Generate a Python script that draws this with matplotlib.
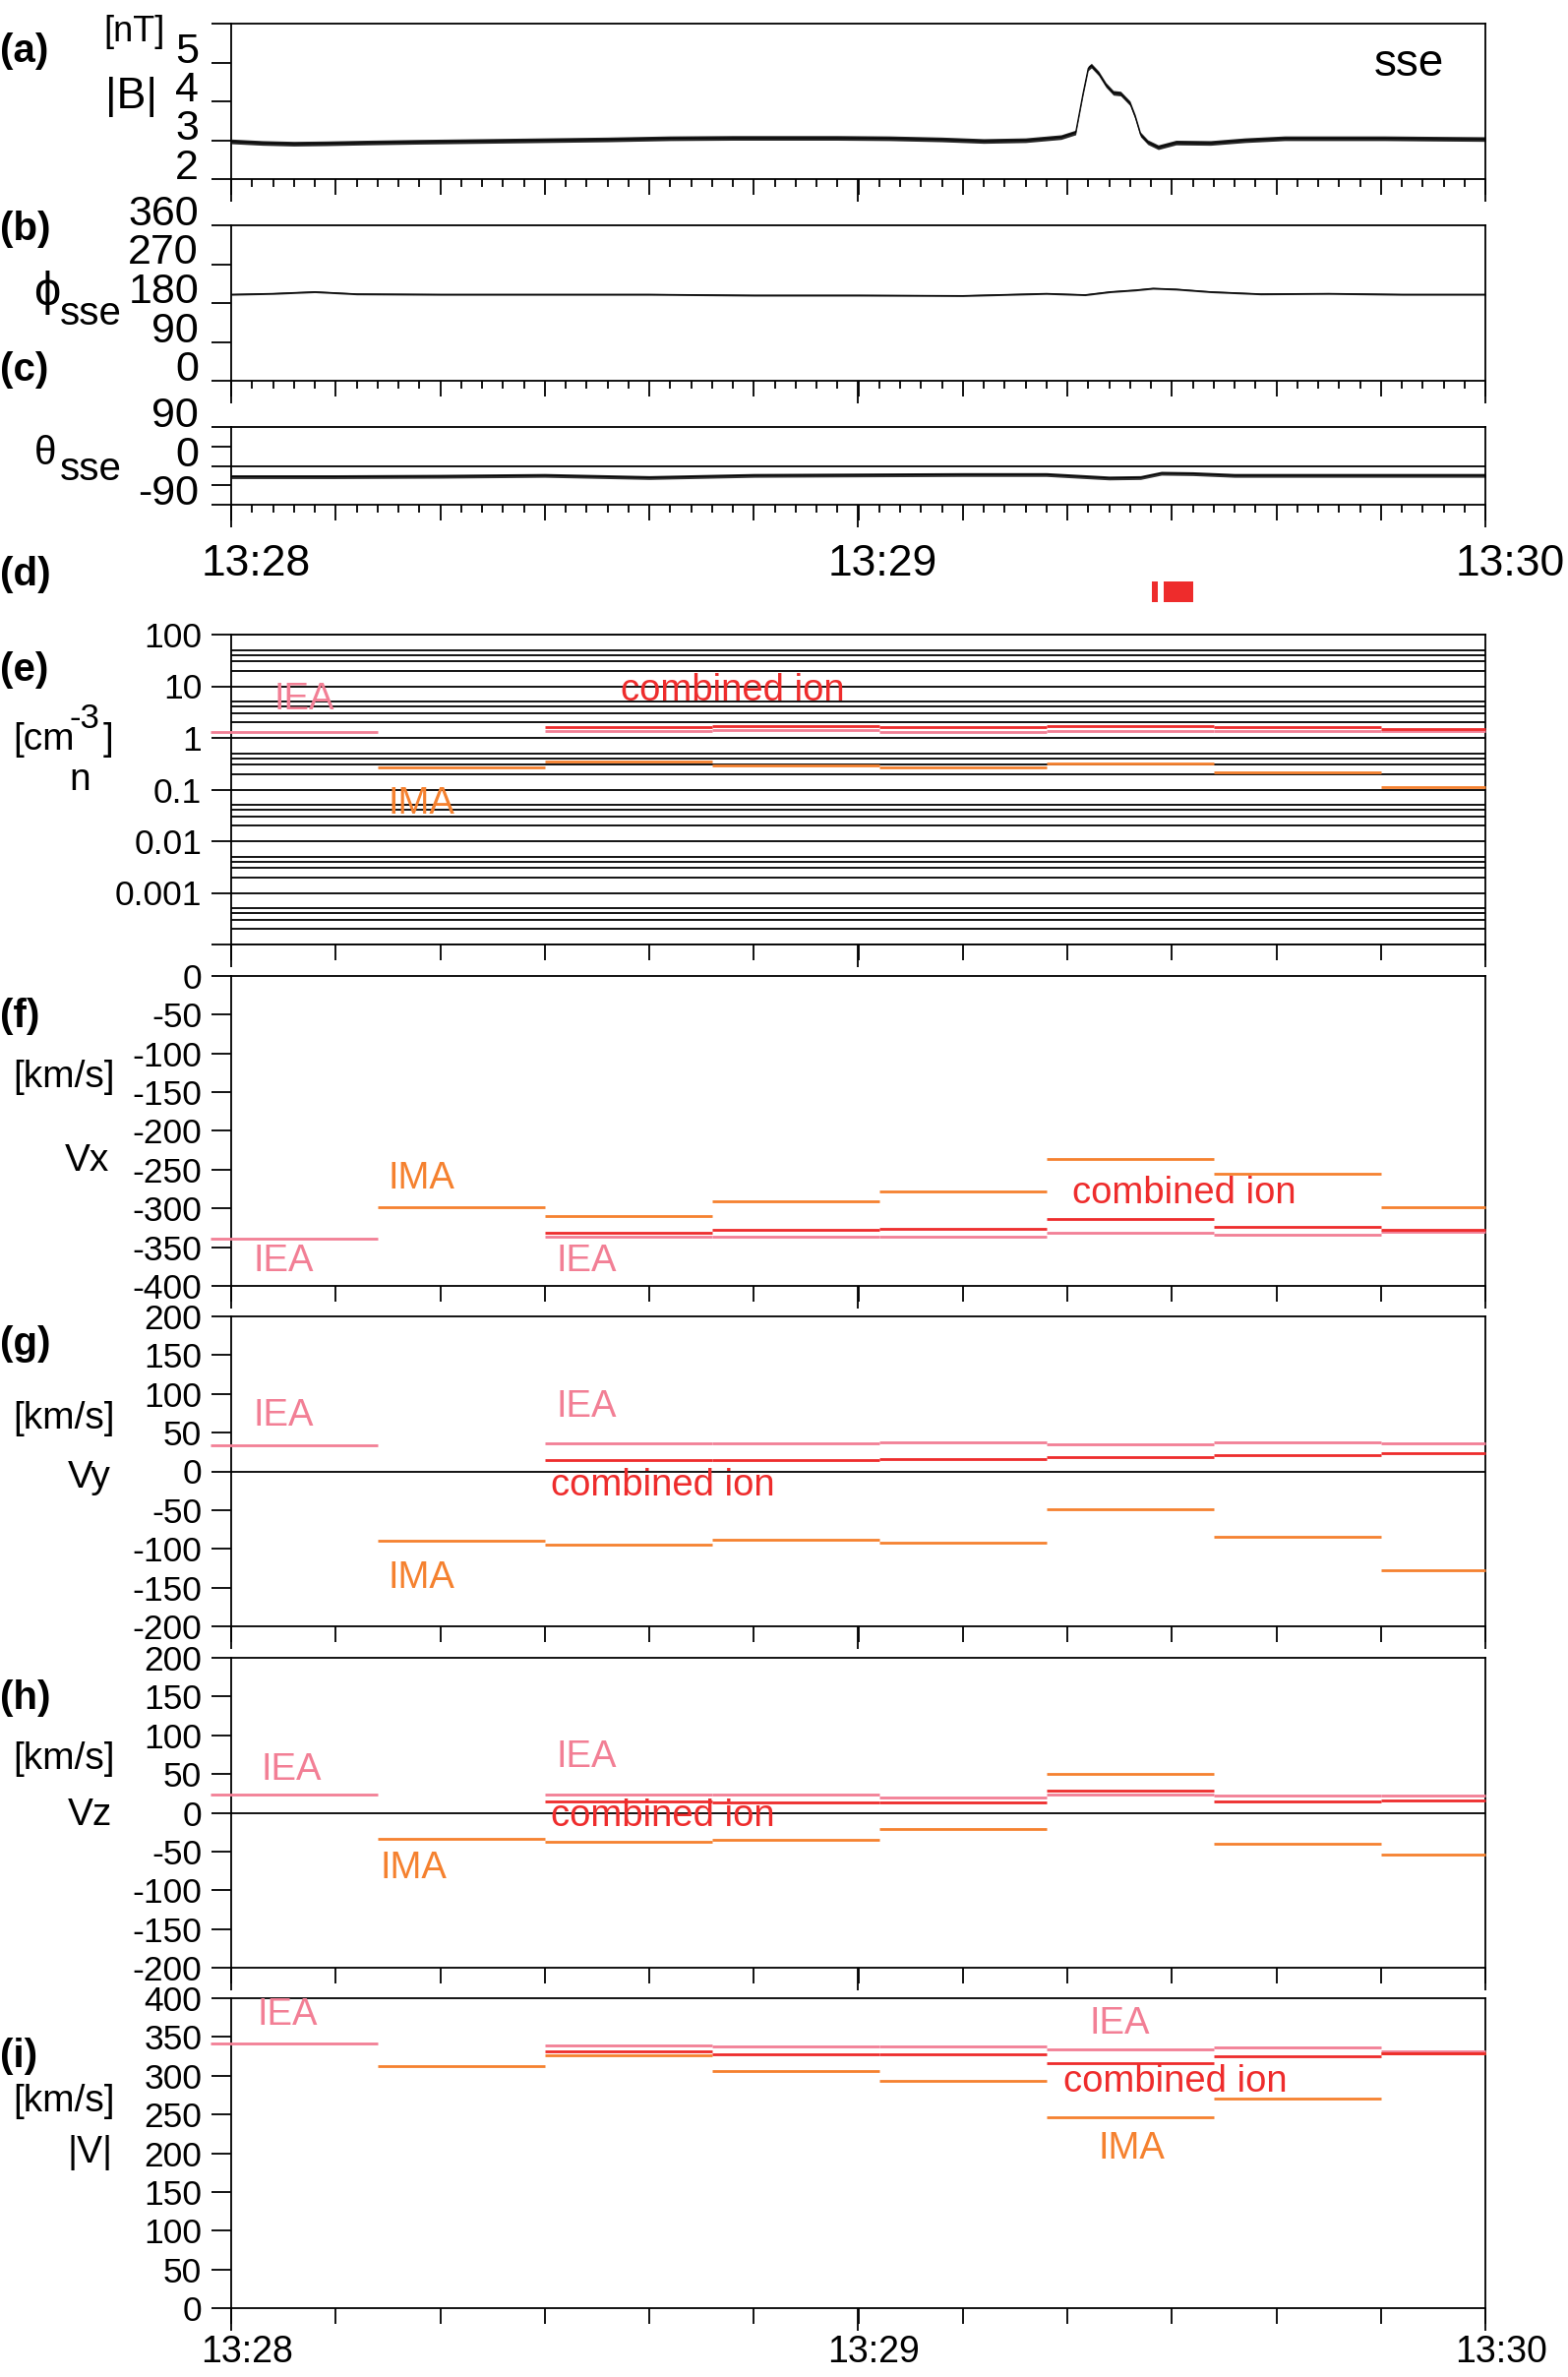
import numpy as np
import matplotlib
matplotlib.use('Agg')
import matplotlib.pyplot as plt
import matplotlib.transforms as mtransforms
from matplotlib.ticker import FixedLocator, NullLocator, NullFormatter

plt.rcParams['font.family'] = ['Liberation Sans', 'DejaVu Sans']
plt.rcParams['axes.unicode_minus'] = False

# ---------------- data (time in seconds after 13:28:00) ----------------
time_ticks = [0, 60, 120]
time_labels = ['13:28', '13:29', '13:30']

# |B| [nT]
t_B = [0, 3, 6, 9, 13, 18, 24, 30, 36, 42, 48, 53, 58, 63, 68, 72, 76, 79.4, 80.8,
       81.5, 82.0, 82.3, 83.0, 83.7, 84.4, 85.1, 86.0, 86.5, 87.0, 87.7, 88.7, 90.4,
       93.7, 97, 100.8, 105, 110.4, 115, 120]
B_mag = [2.97, 2.93, 2.91, 2.92, 2.94, 2.96, 2.98, 3.00, 3.02, 3.05, 3.06, 3.06, 3.06,
         3.05, 3.02, 2.98, 3.0, 3.08, 3.2, 4.2, 4.85, 4.92, 4.72, 4.42, 4.22, 4.2, 3.95,
         3.6, 3.15, 2.95, 2.82, 2.94, 2.93, 3.0, 3.05, 3.05, 3.05, 3.04, 3.03]
B_spread = 0.06

# phi_sse [deg]
t_phi = [0, 4, 8, 12, 20, 30, 40, 50, 60, 70, 78, 81.7, 84.1, 86.5, 88.2, 90.4, 93.7,
         98.5, 105, 112, 120]
phi_sse = [200, 202, 206, 201, 200, 200, 200, 198, 198, 197, 202, 199, 206, 210, 214,
           212, 206, 201, 202, 200, 200]
phi_spread = 2.0

# theta_sse [deg]
t_theta = [0, 10, 20, 30, 40, 50, 60, 70, 78, 81, 84, 87, 89, 92, 96, 105, 120]
theta_sse = [-25, -25, -24, -22, -27, -22, -21, -20, -20, -24, -28, -27, -17, -18, -22,
             -22, -22]
theta_spread = 4.5

# (d) marked intervals
d_intervals = [(88.1, 88.7), (89.2, 92.0)]

# moment segments
seg_start = [-2, 14, 30, 46, 62, 78, 94, 110]
seg_end = [14, 30, 46, 62, 78, 94, 110, 120]

n_iea = [1.28, None, 1.34, 1.40, 1.32, 1.38, 1.38, 1.34]
n_ima = [None, 0.269, 0.349, 0.298, 0.265, 0.32, 0.216, 0.114]
n_comb = [None, None, 1.62, 1.72, 1.64, 1.69, 1.62, 1.46]

vx_iea = [-339, None, -337, -336, -336, -332, -334, -330]
vx_ima = [None, -298, -310, -291, -278, -236, -255, -299]
vx_comb = [None, None, -331, -328, -326, -314, -324, -328]

vy_iea = [34, None, 36, 35.6, 37.3, 34.7, 36.9, 35.6]
vy_ima = [None, -89.4, -94.5, -88, -92.4, -48.7, -84.3, -127]
vy_comb = [None, None, 14.8, 14, 16, 19, 20.8, 22.9]

vz_iea = [23.7, None, 23.7, 23.3, 19.9, 24.1, 22, 22.4]
vz_ima = [None, -33.4, -38, -34.7, -20.7, 49.9, -39.4, -54.6]
vz_comb = [None, None, 14.4, 12.7, 13.1, 28.8, 14, 16.5]

v_iea = [341, None, 339, 338, 338, 334, 336, 332]
v_ima = [None, 312, 326, 306, 293, 246, 271, 329]
v_comb = [None, None, 332, 328, 327, 316, 325, 329]

# ---------------- figure ----------------
W, H = 1594, 2416
DPI = 100
fig = plt.figure(figsize=(W / DPI, H / DPI), dpi=DPI)

PINK = '#F27F95'
ORANGE = '#F5812F'
RED = '#EE2C2C'
LW = 1.3
XL, XR = 235, 1510
PT = 0.72  # px -> pt


def rect(top, bottom):
    return [XL / W, 1 - bottom / H, (XR - XL) / W, (bottom - top) / H]


def ftext(x, y, s, **kw):
    return fig.text(x / W, 1 - y / H, s, **kw)


def style_axes(ax, minor=True):
    for sp in ax.spines.values():
        sp.set_linewidth(LW)
    ax.set_xlim(0, 120)
    ax.xaxis.set_major_locator(FixedLocator(np.arange(0, 121, 10)))
    if minor:
        ax.xaxis.set_minor_locator(FixedLocator(np.arange(0, 121, 2)))
    else:
        ax.xaxis.set_minor_locator(NullLocator())
    ax.xaxis.set_major_formatter(NullFormatter())
    ax.tick_params(axis='x', which='major', direction='out', length=16 * PT, width=LW,
                   labelbottom=False, top=False)
    ax.tick_params(axis='x', which='minor', direction='out', length=8 * PT, width=LW,
                   top=False)
    ax.tick_params(axis='y', which='major', direction='out', length=20 * PT, width=LW,
                   labelsize=25.5, pad=7)
    ax.tick_params(axis='y', which='minor', length=0)
    sec = ax.secondary_xaxis('bottom')
    sec.set_xticks(time_ticks, labels=['', '', ''])
    sec.tick_params(length=23 * PT, width=LW, direction='out')
    sec.spines['bottom'].set_visible(False)


def manual_ylabels(ax, vals, labels):
    tr = mtransforms.blended_transform_factory(ax.transAxes, ax.transData)
    off = mtransforms.ScaledTranslation(-33 / DPI, 0, fig.dpi_scale_trans)
    for v, lab in zip(vals, labels):
        ax.text(0, v, lab, transform=tr + off, ha='right', va='baseline', fontsize=31)


def draw_segments(ax, vals, color):
    xs0 = [s for s, v in zip(seg_start, vals) if v is not None]
    xs1 = [e for e, v in zip(seg_end, vals) if v is not None]
    ys = [v for v in vals if v is not None]
    ax.hlines(ys, xs0, xs1, colors=color, lw=2.0, clip_on=False, zorder=3)


# (a) |B|
ax_a = fig.add_axes(rect(24, 182))
ax_a.fill_between(t_B, np.array(B_mag) - B_spread, np.array(B_mag) + B_spread,
                  color='k', lw=0, alpha=0.85)
ax_a.plot(t_B, B_mag, color='k', lw=0.8)
ax_a.set_ylim(2, 6)
ax_a.set_yticks([2, 3, 4, 5, 6])
ax_a.set_yticklabels([])
style_axes(ax_a)
manual_ylabels(ax_a, [2, 3, 4, 5], ['2', '3', '4', '5'])

# (b) phi
ax_b = fig.add_axes(rect(229, 387))
ax_b.fill_between(t_phi, np.array(phi_sse) - phi_spread, np.array(phi_sse) + phi_spread,
                  color='k', lw=0, alpha=0.85)
ax_b.plot(t_phi, phi_sse, color='k', lw=0.8)
ax_b.set_ylim(0, 360)
ax_b.set_yticks([0, 90, 180, 270, 360])
ax_b.set_yticklabels([])
style_axes(ax_b)
manual_ylabels(ax_b, [0, 90, 180, 270, 360], ['0', '90', '180', '270', '360'])

# (c) theta
ax_c = fig.add_axes(rect(434, 513))
ax_c.fill_between(t_theta, np.array(theta_sse) - theta_spread,
                  np.array(theta_sse) + theta_spread, color='k', lw=0, alpha=0.8)
ax_c.plot(t_theta, theta_sse, color='k', lw=0.8)
ax_c.axhline(0, color='k', lw=LW)
ax_c.set_ylim(-90, 90)
ax_c.set_yticks([-90, -45, 0, 45, 90])
ax_c.set_yticklabels([])
style_axes(ax_c)
manual_ylabels(ax_c, [-90, 0, 90], ['-90', '0', '90'])

# time labels under (c)
tr_c = mtransforms.blended_transform_factory(ax_c.transData, fig.transFigure) + \
    mtransforms.ScaledTranslation(25 / DPI, 0, fig.dpi_scale_trans)
for t, lab in zip(time_ticks, time_labels):
    ax_c.text(t, 1 - 585 / H, lab, transform=tr_c, ha='center', va='baseline',
              fontsize=32, clip_on=False)

# (d) intervals
ax_d = fig.add_axes(rect(591, 612))
ax_d.set_xlim(0, 120)
ax_d.set_ylim(0, 1)
for a, b in d_intervals:
    ax_d.axvspan(a, b, color=RED, lw=0)
ax_d.axis('off')

# (e) density
ax_e = fig.add_axes(rect(645, 960))
ax_e.set_yscale('log')
ax_e.set_ylim(1e-4, 100)
ax_e.yaxis.set_major_locator(FixedLocator([1e-4, 1e-3, 1e-2, 1e-1, 1, 10, 100]))
ax_e.set_yticklabels(['', '0.001', '0.01', '0.1', '1', '10', '100'])
grid_vals = [m * 10.0 ** k for k in range(-4, 2) for m in (2, 3, 4, 5)]
ax_e.yaxis.set_minor_locator(FixedLocator(grid_vals))
ax_e.yaxis.set_minor_formatter(NullFormatter())
style_axes(ax_e, minor=False)
ax_e.grid(True, which='both', axis='y', color='k', lw=LW)
ax_e.set_axisbelow(True)
draw_segments(ax_e, n_iea, PINK)
draw_segments(ax_e, n_ima, ORANGE)
draw_segments(ax_e, n_comb, RED)
LFS = 27.5
ax_e.text(7, 5.6, 'IEA', color=PINK, fontsize=LFS, ha='center', va='center')
ax_e.text(48, 8.3, 'combined ion', color=RED, fontsize=LFS, ha='center', va='center')
ax_e.text(18.2, 0.054, 'IMA', color=ORANGE, fontsize=LFS, ha='center', va='center')

# (f) Vx
ax_f = fig.add_axes(rect(992, 1307))
ax_f.set_ylim(-400, 0)
ax_f.set_yticks(np.arange(-400, 1, 50))
style_axes(ax_f, minor=False)
draw_segments(ax_f, vx_iea, PINK)
draw_segments(ax_f, vx_ima, ORANGE)
draw_segments(ax_f, vx_comb, RED)
ax_f.text(18.2, -261, 'IMA', color=ORANGE, fontsize=LFS, ha='center', va='center')
ax_f.text(5.0, -368, 'IEA', color=PINK, fontsize=LFS, ha='center', va='center')
ax_f.text(34.0, -368, 'IEA', color=PINK, fontsize=LFS, ha='center', va='center')
ax_f.text(91.2, -281, 'combined ion', color=RED, fontsize=LFS, ha='center', va='center')

# (g) Vy
ax_g = fig.add_axes(rect(1338, 1653))
ax_g.set_ylim(-200, 200)
ax_g.set_yticks(np.arange(-200, 201, 50))
style_axes(ax_g, minor=False)
ax_g.axhline(0, color='k', lw=LW)
draw_segments(ax_g, vy_iea, PINK)
draw_segments(ax_g, vy_ima, ORANGE)
draw_segments(ax_g, vy_comb, RED)
ax_g.text(5.0, 72, 'IEA', color=PINK, fontsize=LFS, ha='center', va='center')
ax_g.text(34.0, 83.5, 'IEA', color=PINK, fontsize=LFS, ha='center', va='center')
ax_g.text(41.3, -19, 'combined ion', color=RED, fontsize=LFS, ha='center', va='center')
ax_g.text(18.2, -138, 'IMA', color=ORANGE, fontsize=LFS, ha='center', va='center')

# (h) Vz
ax_h = fig.add_axes(rect(1685, 2000))
ax_h.set_ylim(-200, 200)
ax_h.set_yticks(np.arange(-200, 201, 50))
style_axes(ax_h, minor=False)
ax_h.axhline(0, color='k', lw=LW)
draw_segments(ax_h, vz_iea, PINK)
draw_segments(ax_h, vz_ima, ORANGE)
draw_segments(ax_h, vz_comb, RED)
ax_h.text(5.75, 55, 'IEA', color=PINK, fontsize=LFS, ha='center', va='center')
ax_h.text(34.0, 72, 'IEA', color=PINK, fontsize=LFS, ha='center', va='center')
ax_h.text(41.3, -4.7, 'combined ion', color=RED, fontsize=LFS, ha='center', va='center')
ax_h.text(17.5, -71.5, 'IMA', color=ORANGE, fontsize=LFS, ha='center', va='center')

# (i) |V|
ax_i = fig.add_axes(rect(2031, 2346))
ax_i.set_ylim(0, 400)
ax_i.set_yticks(np.arange(0, 401, 50))
style_axes(ax_i, minor=False)
draw_segments(ax_i, v_iea, PINK)
draw_segments(ax_i, v_ima, ORANGE)
draw_segments(ax_i, v_comb, RED)
ax_i.text(5.4, 378, 'IEA', color=PINK, fontsize=LFS, ha='center', va='center')
ax_i.text(85, 367, 'IEA', color=PINK, fontsize=LFS, ha='center', va='center')
ax_i.text(90.3, 292, 'combined ion', color=RED, fontsize=LFS, ha='center', va='center')
ax_i.text(86.2, 206, 'IMA', color=ORANGE, fontsize=LFS, ha='center', va='center')

tr_i = mtransforms.blended_transform_factory(ax_i.transData, fig.transFigure) + \
    mtransforms.ScaledTranslation(16 / DPI, 0, fig.dpi_scale_trans)
for t, lab in zip(time_ticks, time_labels):
    ax_i.text(t, 1 - 2401 / H, lab, transform=tr_i, ha='center', va='baseline',
              fontsize=27, clip_on=False)

# ---------------- panel letters and axis labels ----------------
for lab, yc in zip('abcdefghi', [52, 233, 376, 584, 681, 1033, 1366, 1726, 2090]):
    ftext(0, yc, '(%s)' % lab, fontsize=29, fontweight='bold', ha='left', va='center')

ftext(105, 42, '[nT]', fontsize=26, ha='left', va='baseline')
ftext(107, 110, '|B|', fontsize=32, ha='left', va='baseline')
ftext(1397, 77, 'sse', fontsize=33, ha='left', va='baseline')

ftext(48, 310, 'ϕ', fontsize=35, ha='center', va='baseline')
ftext(61, 330, 'sse', fontsize=29, ha='left', va='baseline')
ftext(46, 472, 'θ', fontsize=29, ha='center', va='baseline')
ftext(61, 488, 'sse', fontsize=29, ha='left', va='baseline')

ftext(13, 762, '[cm', fontsize=28, ha='left', va='baseline')
ftext(71, 740, '-3', fontsize=25, ha='left', va='baseline')
ftext(105, 762, ']', fontsize=28, ha='left', va='baseline')
ftext(81, 803, 'n', fontsize=28, ha='center', va='baseline')

ftext(13, 1105, '[km/s]', fontsize=28, ha='left', va='baseline')
ftext(66, 1190, 'Vx', fontsize=28, ha='left', va='baseline')
ftext(13, 1452, '[km/s]', fontsize=28, ha='left', va='baseline')
ftext(69, 1512, 'Vy', fontsize=28, ha='left', va='baseline')
ftext(13, 1798, '[km/s]', fontsize=28, ha='left', va='baseline')
ftext(69, 1855, 'Vz', fontsize=28, ha='left', va='baseline')
ftext(13, 2146, '[km/s]', fontsize=28, ha='left', va='baseline')
ftext(92, 2198, '|V|', fontsize=28, ha='center', va='baseline')

fig.savefig('out.png', dpi=DPI)
